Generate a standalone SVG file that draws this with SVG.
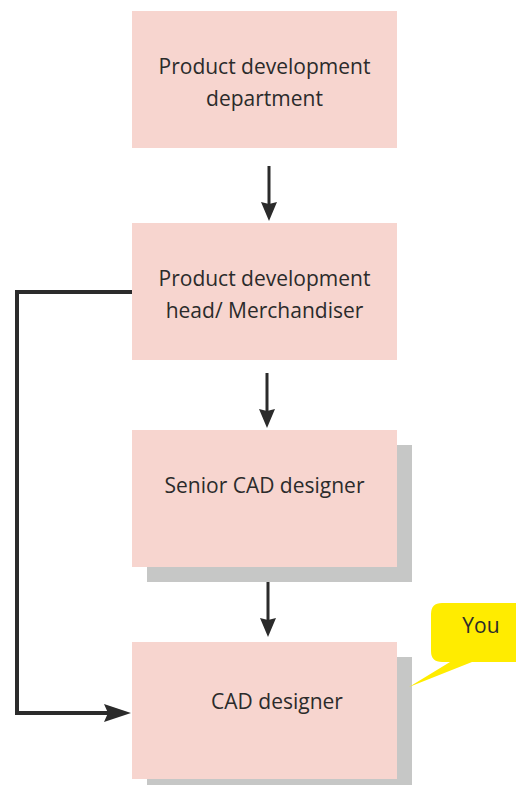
<svg xmlns="http://www.w3.org/2000/svg" width="516" height="785" viewBox="0 0 516 785">
<defs>
<style>
.box{fill:#F7D5CF}
.shadow{fill:#C6C7C6}
.t{font-family:"Open Sans","Liberation Sans",sans-serif;font-size:21px;fill:#2b2b2b;text-anchor:middle}
.c{stroke:#2b2b2b;stroke-width:3;fill:none}
.cl{stroke:#2b2b2b;stroke-width:4;fill:none}
</style>
</defs>
<g id="node1">
<rect class="box" x="132" y="11" width="265" height="137"/>
<text class="t" x="264.5" y="74">Product development</text>
<text class="t" x="264.5" y="106">department</text>
</g>
<g id="node2">
<rect class="box" x="132" y="223" width="265" height="137"/>
<text class="t" x="264.5" y="286">Product development</text>
<text class="t" x="264.5" y="318">head/ Merchandiser</text>
</g>
<g id="node3">
<rect class="shadow" x="147" y="445" width="265" height="137"/>
<rect class="box" x="132" y="430" width="265" height="137"/>
<text class="t" x="264.5" y="493">Senior CAD designer</text>
</g>
<g id="node4">
<rect class="shadow" x="147" y="657" width="265" height="137"/>
<rect class="box" x="132" y="642" width="265" height="137"/>
<text class="t" x="277" y="709">CAD designer</text>
</g>
<g id="callout">
<path d="M442,603 H516 V662 H472 L409,687 L450,662 H442 Q431,662 431,651 V614 Q431,603 442,603 Z" fill="#FFEC00"/>
<text class="t" x="481" y="633">You</text>
</g>
<g id="connectors">
<path d="M269,166 V207" class="c"/>
<path d="M269,204 l-8,-2 l8,19 l8,-19 z" fill="#2b2b2b"/>
<path d="M267,373 V414" class="c"/>
<path d="M267,411 l-8,-2 l8,19 l8,-19 z" fill="#2b2b2b"/>
<path d="M268,582 V623" class="c"/>
<path d="M268,620 l-8,-2 l8,19 l8,-19 z" fill="#2b2b2b"/>
<path d="M132,292 H17 V713 H112" class="cl"/>
<path d="M108,713 l-4,-9 l27,9 l-27,9 z" fill="#2b2b2b"/>
</g>
</svg>
